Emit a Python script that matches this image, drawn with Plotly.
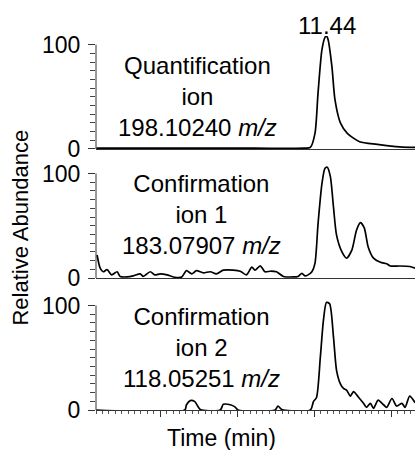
import plotly.graph_objects as go

FONT = "Liberation Sans, Arial, sans-serif"

# ---- data (time in min, relative abundance in %) ----
time_quant = [8.45, 9.50, 10.50, 11.16, 11.23, 11.29, 11.33, 11.38, 11.42, 11.44, 11.46,
              11.51, 11.55, 11.62, 11.71, 11.87, 12.10, 12.39, 12.59]
abund_quant = [0.8, 0.8, 0.8, 0.8, 1.5, 15, 54, 95, 107, 108.2, 105,
               79, 47, 25, 15, 7, 4.5, 2, 1.5]

time_conf1 = [8.46, 8.50, 8.54, 8.59, 8.65, 8.72, 8.76, 8.85, 8.93, 9.02, 9.06, 9.15, 9.21,
              9.28, 9.37, 9.45, 9.56, 9.62, 9.69, 9.75, 9.84, 9.93, 10.01, 10.10, 10.23,
              10.32, 10.40, 10.47, 10.51, 10.58, 10.64, 10.71, 10.79, 10.88, 11.01, 11.07,
              11.12, 11.16, 11.20, 11.25, 11.29, 11.33, 11.38, 11.42, 11.45, 11.49, 11.53,
              11.57, 11.64, 11.70, 11.77, 11.83, 11.88, 11.93, 11.98, 12.05, 12.14, 12.22,
              12.27, 12.39, 12.52, 12.59]
abund_conf1 = [22, 9.5, 6, 8, 3, 6, 1.5, 1, 2, 4, 1.5, 6, 3,
               4, 3, 1, 1, 7, 4, 7, 5, 6, 4, 7.5, 7.5,
               6.5, 3, 10.5, 7.5, 11.7, 6, 6.5, 6, 1.5, 1, 1.5,
               4.5, 2, 3, 6, 14, 52, 90, 105, 106, 97, 68,
               41, 25, 19, 27, 46, 53, 48, 30, 19, 15, 13.6,
               11.5, 11.5, 11, 9.5]

time_conf2 = [8.45, 9.60, 9.62, 9.67, 9.73, 9.80, 10.06, 10.10, 10.19, 10.25, 10.29, 10.77,
              10.81, 10.86, 11.23, 11.27, 11.31, 11.36, 11.40, 11.44, 11.48, 11.53, 11.57,
              11.62, 11.66, 11.70, 11.75, 11.79, 11.85, 11.92, 11.96, 12.01, 12.05, 12.11,
              12.18, 12.22, 12.29, 12.35, 12.42, 12.46, 12.52, 12.59]
abund_conf2 = [0, 0, 4.8, 9, 8, 0.5, 0, 5.4, 5, 3, 0, 0,
               3.8, 0.5, 0, 8, 12, 51, 86, 103, 101.6, 70, 38,
               25, 20.6, 19, 13.3, 17.5, 12.7, 6.4, 2.5, 6.4, 1.6, 9.5,
               5, 2.5, 11, 3.8, 6.4, 2.5, 13.3, 7]

panel_labels = [
    "Quantification<br>ion<br>198.10240\u00a0<i>m/z</i>",
    "Confirmation<br>ion 1<br>183.07907\u00a0<i>m/z</i>",
    "Confirmation<br>ion 2<br>118.05251\u00a0<i>m/z</i>",
]
peak_label = "11.44"
peak_time = 11.44
peak_abund = 108.2
y_tick_vals = [0, 100]
y_tick_text = ["0", "100"]
y_title = "Relative Abundance"
x_title = "Time (min)"
x_range = [8.446, 12.589]
y_range = [0, 108.3]

series = [(time_quant, abund_quant), (time_conf1, abund_conf1), (time_conf2, abund_conf2)]

fig = go.Figure()
for i, (t, a) in enumerate(series):
    sfx = "" if i == 0 else str(i + 1)
    fig.add_trace(go.Scatter(
        x=t, y=a, xaxis="x" + sfx, yaxis="y" + sfx, mode="lines",
        line=dict(color="black", width=1.7, shape="spline", smoothing=0.7),
        showlegend=False, hoverinfo="skip"))

domains = [[0.6979, 1.0], [0.3529, 0.6556], [0.0, 0.3027]]

layout = dict(
    width=415, height=450,
    margin=dict(l=96, r=0, t=36, b=40),
    paper_bgcolor="white", plot_bgcolor="white",
    font=dict(family=FONT, color="black", size=22),
    showlegend=False,
)

shapes = []
for i in range(3):
    sfx = "" if i == 0 else str(i + 1)
    xa = dict(
        domain=[0, 1], range=x_range, anchor="y" + sfx,
        showline=True, linecolor="#333", linewidth=1,
        showgrid=False, zeroline=False, showticklabels=False, ticks="",
    )
    if i > 0:
        xa["matches"] = "x"
    if i == 2:
        xa.update(ticks="outside", tickmode="linear", tick0=0.28, dtick=1,
                  ticklen=6, tickwidth=1, tickcolor="#333",
                  minor=dict(ticks="outside", tick0=0.28, dtick=1 / 12,
                             ticklen=3, tickwidth=1, tickcolor="#555", showgrid=False))
    ya = dict(
        domain=domains[i], range=y_range, anchor="x" + sfx,
        showline=False, showgrid=False, zeroline=False,
        tickmode="array", tickvals=y_tick_vals, ticktext=y_tick_text,
        ticks="outside", ticklen=7, tickwidth=1, tickcolor="#333",
        tickfont=dict(family=FONT, size=23, color="black"),
        ticklabelstandoff=3,
        minor=dict(ticks="outside", tick0=0, dtick=100 / 12,
                   ticklen=5, tickwidth=1, tickcolor="#444", showgrid=False),
    )
    layout["xaxis" + sfx] = xa
    layout["yaxis" + sfx] = ya
    shapes.append(dict(type="line", xref="x" + sfx + " domain", yref="y" + sfx,
                       x0=0, x1=0, y0=0, y1=100,
                       line=dict(color="#333", width=1)))

annotations = []
label_pos = [(0.317, 0.837), (0.33, 0.523), (0.33, 0.168)]
for txt, (px, py) in zip(panel_labels, label_pos):
    annotations.append(dict(text=txt, xref="paper", yref="paper", x=px, y=py,
                            xanchor="center", yanchor="middle", showarrow=False,
                            font=dict(family=FONT, size=24, color="black"),
                            align="center"))
annotations.append(dict(text=peak_label, xref="x", yref="y", x=peak_time, y=peak_abund,
                        xanchor="center", yanchor="bottom", showarrow=False, yshift=-5,
                        font=dict(family=FONT, size=24, color="black")))
annotations.append(dict(text=y_title, xref="paper", yref="paper", x=-0.236, y=0.487,
                        xanchor="center", yanchor="middle", textangle=-90, showarrow=False,
                        font=dict(family=FONT, size=22, color="black")))
annotations.append(dict(text=x_title, xref="paper", yref="paper", x=0.392, y=-0.075,
                        xanchor="center", yanchor="middle", showarrow=False,
                        font=dict(family=FONT, size=23, color="black")))

layout["shapes"] = shapes
layout["annotations"] = annotations
fig.update_layout(**layout)

fig.write_html("out.html")
